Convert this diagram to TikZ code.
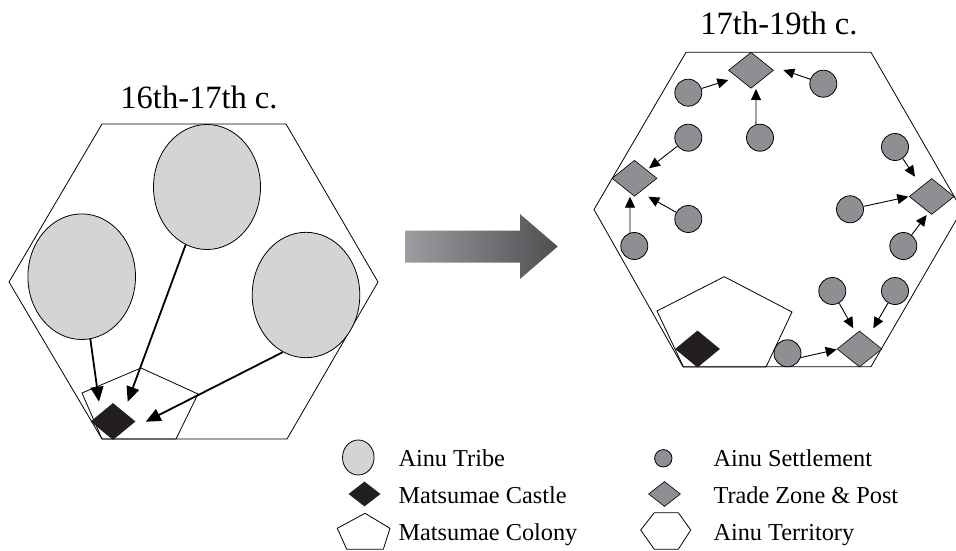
\documentclass[tikz,border=0pt]{standalone}
\usepackage{fontspec}
\setmainfont{Liberation Serif}
\usetikzlibrary{shapes.geometric,arrows.meta}
\definecolor{tribefill}{HTML}{D3D4D6}
\definecolor{settlefill}{HTML}{8E8F92}
\definecolor{castlefill}{HTML}{231F20}
\definecolor{arrL}{HTML}{9C9DA1}
\definecolor{arrR}{HTML}{4E4F51}
\begin{document}
\begin{tikzpicture}[x=1pt,y=-1pt,
  terr/.style={draw, line width=0.8pt, line join=miter},
  tribe/.style={ellipse, draw, fill=tribefill, line width=0.8pt, inner sep=0},
  settle/.style={circle, draw, fill=settlefill, line width=0.8pt, inner sep=0, minimum size=27pt},
  post/.style={diamond, draw, fill=settlefill, line width=0.6pt, inner sep=0, minimum width=45pt, minimum height=36pt},
  castle/.style={diamond, fill=castlefill, inner sep=0, minimum width=45pt, minimum height=37pt},
  bigarr/.style={line width=1.8pt, -{Triangle[length=15pt,width=13pt]}},
  smallarr/.style={line width=0.9pt, -{Triangle[length=11pt,width=10pt]}},
  title/.style={font=\fontsize{32.5}{36}\selectfont, inner sep=0, anchor=base},
  legtext/.style={font=\fontsize{24.3}{28}\selectfont, inner sep=0, anchor=base west}]
\useasboundingbox (0,0) rectangle (956,551);

% ---------- left panel ----------
\node[title] (T16) at (199,108.3) {16th-17th c.};
\draw[terr] (102,124) -- (286,124) -- (378,282) -- (287,439) -- (102,439) -- (9,282) -- cycle;
\draw[terr] (82,393) -- (141,368) -- (198,394) -- (176,439) -- (102,439) -- cycle;
\node[castle] (K1) at (113,421.5) {};
\node[tribe, minimum width=107.6pt, minimum height=125.6pt] (E1) at (81.7,276.7) {};
\node[tribe, minimum width=107pt, minimum height=125pt] (E2) at (207,187) {};
\node[tribe, minimum width=107.6pt, minimum height=125.4pt] (E3) at (306,295) {};
\coordinate (a1) at (99,401.7);
\coordinate (a2) at (127.7,401.7);
\coordinate (a3) at (145.7,421.7);
\draw[bigarr] (E1) -- (a1);
\draw[bigarr] (E2) -- (a2);
\draw[bigarr] (E3.248) -- (a3);

% ---------- transition arrow ----------
\shade[left color=arrL, right color=arrR] (405,230.7) -- (520,230.7) -- (520,214) -- (557.7,246.5) -- (520,279) -- (520,262.7) -- (405,262.7) -- cycle;

% ---------- right panel ----------
\node[title] (T17) at (779,35) {17th-19th c.};
\draw[terr] (686,52.3) -- (871,52.3) -- (962,210) -- (871,366.7) -- (683,366.7) -- (594,209.5) -- cycle;
\draw[terr] (657,311) -- (724.3,276.7) -- (792,312) -- (766,367) -- (683.5,367) -- cycle;
\node[castle] (K2) at (697.5,349) {};

\node[post] (P1) at (751,70.3) {};
\node[post] (P2) at (634.5,178.3) {};
\node[post] (P3) at (931.7,196.5) {};
\node[post] (P4) at (859.5,349) {};

\node[settle] (C1) at (688.3,92.7) {};
\node[settle] (C2) at (823.3,83.7) {};
\node[settle] (C3) at (760,137.7) {};
\node[settle] (C4) at (688.3,137.7) {};
\node[settle] (C5) at (688.3,219) {};
\node[settle] (C6) at (634.3,246) {};
\node[settle] (C7) at (895,147) {};
\node[settle] (C8) at (850,209.3) {};
\node[settle] (C9) at (903.3,246) {};
\node[settle] (C10) at (832.3,291) {};
\node[settle] (C11) at (895,291) {};
\node[settle] (C12) at (787.5,353.3) {};

\coordinate (b1) at (728.3,80);
\coordinate (b2) at (783.3,70);
\coordinate (b3) at (756,89);
\coordinate (b4) at (649,168.3);
\coordinate (b5) at (648.3,196.7);
\coordinate (b6) at (630,196.7);
\coordinate (b7) at (915,176.7);
\coordinate (b8) at (908.3,196.7);
\coordinate (b9) at (926.7,215);
\coordinate (b10) at (853.3,328.3);
\coordinate (b11) at (873.3,328.3);
\coordinate (b12) at (836.7,349.5);

\draw[smallarr] (C1) -- (b1);
\draw[smallarr] (C2) -- (b2);
\draw[smallarr] (C3.107) -- (b3);
\draw[smallarr] (C4) -- (b4);
\draw[smallarr] (C5) -- (b5);
\draw[smallarr] (C6.108) -- (b6);
\draw[smallarr] (C7) -- (b7);
\draw[smallarr] (C8) -- (b8);
\draw[smallarr] (C9) -- (b9);
\draw[smallarr] (C10) -- (b10);
\draw[smallarr] (C11) -- (b11);
\draw[smallarr] (C12.-18) -- (b12);

% ---------- legend ----------
\node[tribe, minimum width=31.6pt, minimum height=35pt] (LE) at (358.3,457.5) {};
\node[legtext] (LEt) at (398.3,466.7) {Ainu Tribe};
\node[castle, minimum width=32pt, minimum height=25pt] (LK) at (364.5,494) {};
\node[legtext] (LKt) at (398.3,503.3) {Matsumae Castle};
\draw[terr] (337.3,528.3) -- (365,513.3) -- (390,528.3) -- (383.3,549.3) -- (346.7,549.3) -- cycle;
\node[legtext] (LCt) at (398.3,540) {Matsumae Colony};

\node[settle, minimum size=17.4pt] (LS) at (663.3,458.3) {};
\node[legtext] (LSt) at (713.3,466.7) {Ainu Settlement};
\node[post, minimum width=32pt, minimum height=25pt] (LP) at (664.5,494) {};
\node[legtext] (LPt) at (713.3,503.3) {Trade Zone \& Post};
\draw[terr] (640.7,530) -- (654.3,512.7) -- (678.3,512.7) -- (690.7,530) -- (678.3,549.3) -- (654.3,549.3) -- cycle;
\node[legtext] (LTt) at (713.3,540) {Ainu Territory};
\end{tikzpicture}
\end{document}
